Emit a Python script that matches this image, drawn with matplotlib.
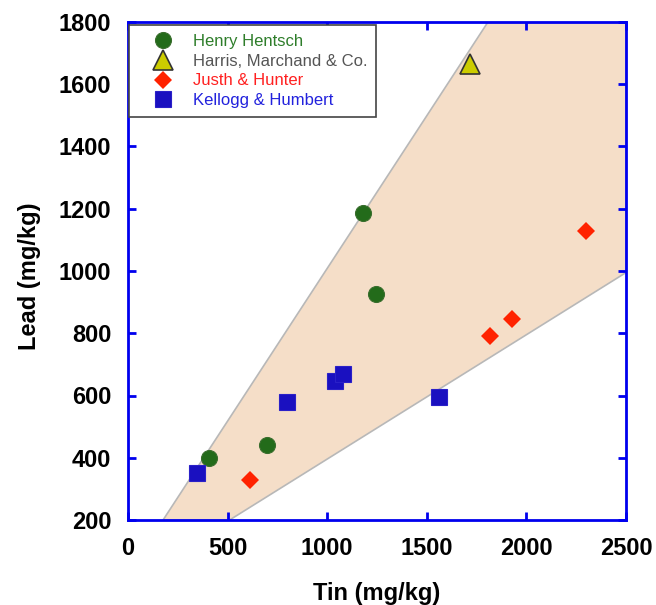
import numpy as np
import matplotlib.pyplot as plt

plt.rcParams['font.family'] = ['Liberation Sans', 'DejaVu Sans']

# values
hentsch_tin = [405, 700, 1180, 1245]
hentsch_lead = [400, 440, 1185, 925]
harris_tin = [1715]
harris_lead = [1665]
justh_tin = [610, 1815, 1930, 2300]
justh_lead = [330, 790, 845, 1130]
kellogg_tin = [345, 800, 1040, 1080, 1560]
kellogg_lead = [352, 580, 648, 668, 596]

# shaded band corners (tin, lead)
band_tin = [176, 1807, 2500, 2500, 510]
band_lead = [200, 1800, 1800, 995, 200]

x_ticks = [0, 500, 1000, 1500, 2000, 2500]
y_ticks = [200, 400, 600, 800, 1000, 1200, 1400, 1600, 1800]

fig = plt.figure(figsize=(6.56, 6.05), dpi=100)
ax = fig.add_axes([128 / 656, 85 / 605, 498 / 656, 498 / 605])

ax.fill(band_tin, band_lead, facecolor='#f5dec8', edgecolor='#b8b8b8',
        linewidth=1.2, zorder=1)

ax.plot(hentsch_tin, hentsch_lead, 'o', color='#236b1a', markersize=11.5,
        markeredgecolor='#3a6e2e', markeredgewidth=0.8, zorder=3, label='Henry Hentsch')
ax.plot(harris_tin, harris_lead, '^', color='#cccc00', markersize=15,
        markeredgecolor='#333333', markeredgewidth=1.2, zorder=3,
        label='Harris, Marchand & Co.')
ax.plot(justh_tin, justh_lead, 'D', color='#ff2200', markersize=9,
        markeredgewidth=0, zorder=3, label='Justh & Hunter')
ax.plot(kellogg_tin, kellogg_lead, 's', color='#1a10c0', markersize=11.5,
        markeredgecolor='#2a20c8', markeredgewidth=0.8, zorder=3, label='Kellogg & Humbert')

ax.set_xlim(0, 2500)
ax.set_ylim(200, 1800)
ax.set_xticks(x_ticks)
ax.set_yticks(y_ticks)

for sp in ax.spines.values():
    sp.set_color('#0000ee')
    sp.set_linewidth(2)
    sp.set_zorder(5)

ax.tick_params(direction='in', length=6, width=2, color='#0000ee',
               top=True, right=True, labelsize=17, pad=12)
for lab in ax.get_xticklabels() + ax.get_yticklabels():
    lab.set_fontweight('bold')

ax.set_xlabel('Tin (mg/kg)', fontsize=17, fontweight='bold')
ax.set_ylabel('Lead (mg/kg)', fontsize=17, fontweight='bold')
ax.xaxis.set_label_coords(0.5, -0.125)
ax.yaxis.set_label_coords(-0.174, 0.49)

leg = ax.legend(loc='upper left', bbox_to_anchor=(0.002, 0.994), fontsize=12,
                frameon=True, fancybox=False, borderaxespad=0.0,
                handletextpad=0.32, labelspacing=0.28, borderpad=0.55,
                handlelength=2.96)
leg.get_frame().set_edgecolor('#444444')
leg.get_frame().set_linewidth(1.2)
leg.get_frame().set_alpha(1)
text_colors = ['#2e7d2a', '#555555', '#ff2020', '#2222dd']
for t, c in zip(leg.get_texts(), text_colors):
    t.set_color(c)
leg.set_zorder(6)

fig.savefig('out.png', dpi=100)
